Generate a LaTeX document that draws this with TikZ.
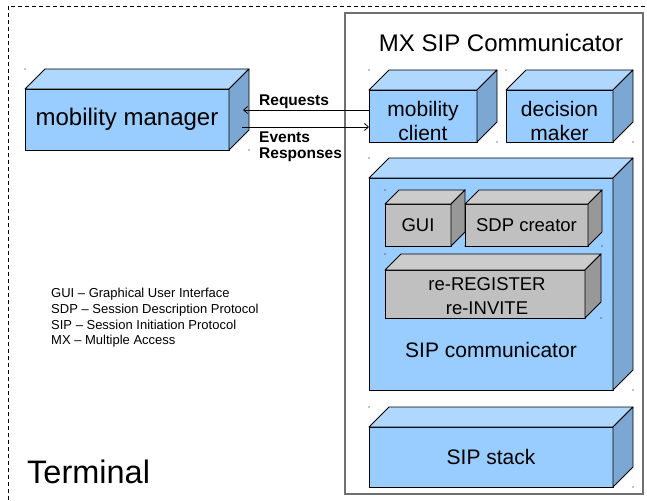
\documentclass[tikz,border=0pt]{standalone}
\usepackage{fontspec}
\setmainfont{Liberation Sans}
\usetikzlibrary{arrows.meta}

\definecolor{bluefront}{HTML}{99CCFF}
\definecolor{bluetop}{HTML}{B0D8FF}
\definecolor{blueside}{HTML}{7BA7D2}
\definecolor{grayfront}{HTML}{C0C0C0}
\definecolor{graytop}{HTML}{CCCCCC}
\definecolor{grayside}{HTML}{989898}
\definecolor{frameline}{HTML}{707070}

\tikzset{
  face/.style={draw=black, line width=0.9pt, line join=round},
  cube/.style={face, rectangle, inner sep=0pt, outer sep=0pt, align=center},
  bluecube/.style={cube, fill=bluefront},
  graycube/.style={cube, fill=grayfront},
  huge/.style={font=\fontsize{24}{28}\selectfont},
  big/.style={font=\fontsize{21}{24}\selectfont},
  mid/.style={font=\fontsize{18.5}{24}\selectfont},
  flowlabel/.style={font=\fontsize{15.5}{18}\selectfont\bfseries, anchor=west, inner sep=0pt},
  legend/.style={font=\fontsize{13}{15.7}\selectfont, anchor=north west, align=left, inner sep=0pt},
  flow/.style={black, line width=0.8pt, -{Straight Barb[length=4pt,width=7pt]}},
  border/.style={draw=black, line width=0.9pt, dash pattern=on 4pt off 3pt},
}

% top and side faces of a box whose front face is node #1
\newcommand\cubefaces[4]{%
  \filldraw[face, fill=#3] (#1.north west) -- ++(#2,-#2)
    -- ([shift={(#2,-#2)}]#1.north east) -- (#1.north east) -- cycle;
  \filldraw[face, fill=#4] (#1.north east) -- ++(#2,-#2)
    -- ([shift={(#2,-#2)}]#1.south east) -- (#1.south east) -- cycle;
  \fill ([shift={(0,-#2)}]#1.north west) circle (0.6);
  \fill ([shift={(#2,0)}]#1.south east) circle (0.6);
}

\begin{document}
\begin{tikzpicture}[x=1pt, y=-1pt]
\useasboundingbox (0,0) rectangle (647,500);

% terminal boundary
\draw[border] (8,500) -- (8,6) -- (647,6);

% MX SIP Communicator frame
\node[draw=frameline, line width=1.3pt, minimum width=298pt, minimum height=481pt,
      inner sep=0pt] (mx) at (494,253.5) {};
\node[huge] (mxtitle) at (501,43) {MX SIP Communicator};

% mobility manager
\node[bluecube, minimum width=204pt, minimum height=61pt, huge] (mm) at (127,119.5) {mobility manager};
\cubefaces{mm}{20}{bluetop}{blueside}

% mobility client and decision maker
\node[bluecube, minimum width=108pt, minimum height=52pt] (mc) at (423,116) {};
\cubefaces{mc}{20}{bluetop}{blueside}
\node[big, align=center] (mctext) at (423,121) {mobility\\client};
\node[bluecube, minimum width=107pt, minimum height=52pt] (dm) at (559.5,116) {};
\cubefaces{dm}{20}{bluetop}{blueside}
\node[big, align=center] (dmtext) at (559.5,121) {decision\\maker};

% SIP communicator with its parts
\node[bluecube, minimum width=244pt, minimum height=212pt] (sc) at (491,284) {};
\cubefaces{sc}{20}{bluetop}{blueside}
\node[big] (sclabel) at (491,350) {SIP communicator};

\node[graycube, minimum width=66pt, minimum height=42pt, mid] (gui) at (418,225) {GUI};
\cubefaces{gui}{14}{graytop}{grayside}
\node[graycube, minimum width=123pt, minimum height=42pt, mid] (sdp) at (526.5,225) {SDP creator};
\cubefaces{sdp}{14}{graytop}{grayside}
\node[graycube, minimum width=200pt, minimum height=48pt] (re) at (485,294) {};
\cubefaces{re}{16}{graytop}{grayside}
\node[mid, align=center] (retext) at (487,296) {re-REGISTER\\re-INVITE};

% SIP stack
\node[bluecube, minimum width=244pt, minimum height=60pt, big] (ss) at (491,457) {SIP stack};
\cubefaces{ss}{20}{bluetop}{blueside}

% message flows between manager and client
\draw[flow] ([yshift=6pt]mc.west) coordinate (rq) -- ([xshift=14pt]mm.east |- rq);
\draw[flow] ([xshift=13pt]mm.east |- 0,127) coordinate (ev) -- (mc.west |- ev);
\node[flowlabel] (lreq) at (259,102) {Requests};
\node[flowlabel] (lev) at (259,137) {Events};
\node[flowlabel] (lresp) at (259,155) {Responses};

% abbreviations
\node[legend] (abbr) at (51,288) {GUI -- Graphical User Interface\\
SDP -- Session Description Protocol\\
SIP -- Session Initiation Protocol\\
MX -- Multiple Access};

\node[font=\fontsize{32.5}{36}\selectfont, anchor=west, inner sep=0pt] (term) at (27,472) {Terminal};
\end{tikzpicture}
\end{document}
